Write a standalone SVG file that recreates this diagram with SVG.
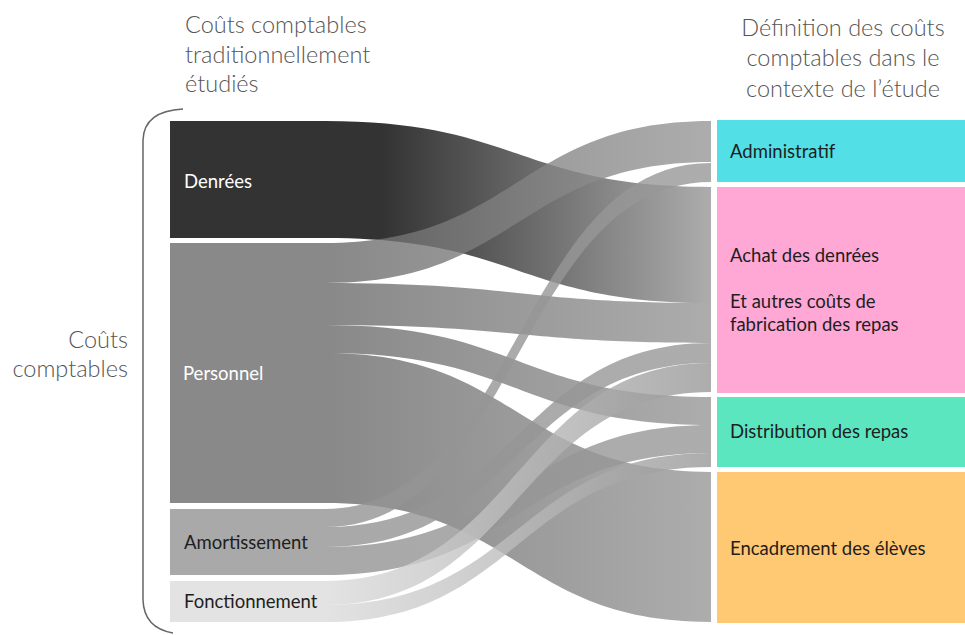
<svg xmlns="http://www.w3.org/2000/svg" width="965" height="635" viewBox="0 0 965 635">
<style>
.title{font-family:Lato,"Open Sans","Liberation Sans",sans-serif;font-weight:300;font-size:23.5px;fill:#555}
.lbl{font-family:Lato,"Open Sans","Liberation Sans",sans-serif;font-size:18.5px}
.dark{fill:#1e1e1e}
.light{fill:#ffffff}
.flow{fill-opacity:0.8}
</style>
<defs>
<linearGradient id="gD" gradientUnits="userSpaceOnUse" x1="325" y1="0" x2="711" y2="0"><stop offset="0" stop-color="#000"/><stop offset="0.15" stop-color="#000"/><stop offset="1" stop-color="#989898"/></linearGradient>
<linearGradient id="gP" gradientUnits="userSpaceOnUse" x1="325" y1="0" x2="711" y2="0"><stop offset="0" stop-color="#6b6b6b"/><stop offset="1" stop-color="#989898"/></linearGradient>
<linearGradient id="gA" gradientUnits="userSpaceOnUse" x1="325" y1="0" x2="711" y2="0"><stop offset="0" stop-color="#939393"/><stop offset="1" stop-color="#989898"/></linearGradient>
<linearGradient id="gF" gradientUnits="userSpaceOnUse" x1="325" y1="0" x2="711" y2="0"><stop offset="0" stop-color="#dcdcdc"/><stop offset="1" stop-color="#989898"/></linearGradient>
</defs>
<rect width="965" height="635" fill="#fff"/>

<g id="titles">
<text class="title" x="185" y="33">Coûts comptables</text>
<text class="title" x="185" y="63">traditionnellement</text>
<text class="title" x="185" y="92">étudiés</text>
<text class="title" x="843" y="36" text-anchor="middle">Définition des coûts</text>
<text class="title" x="843" y="66" text-anchor="middle">comptables dans le</text>
<text class="title" x="843" y="97" text-anchor="middle">contexte de l’étude</text>
</g>

<g id="brace">
<path d="M183 109 Q144 111 143 140 L143 600 Q144 628 173 633" fill="none" stroke="#666" stroke-width="1.5"/>
<text class="title" x="128" y="348" text-anchor="end">Coûts</text>
<text class="title" x="128" y="377" text-anchor="end">comptables</text>
</g>

<g id="connectors">
<path class="flow" fill="url(#gD)" d="M325 121 C518 121 518 187 711 187 L711 303 C518 303 518 238 325 238 Z"/>
<path class="flow" fill="url(#gP)" d="M325 243 C518 243 518 121 711 121 L711 162 C518 162 518 283 325 283 Z"/>
<path class="flow" fill="url(#gP)" d="M325 283 C518 283 518 303 711 303 L711 343 C518 343 518 325 325 325 Z"/>
<path class="flow" fill="url(#gP)" d="M325 325 C518 325 518 397 711 397 L711 425 C518 425 518 353 325 353 Z"/>
<path class="flow" fill="url(#gP)" d="M325 353 C518 353 518 472 711 472 L711 622 C518 622 518 503 325 503 Z"/>
<path class="flow" fill="url(#gA)" d="M325 509 C518 509 518 163 711 163 L711 182 C518 182 518 527 325 527 Z"/>
<path class="flow" fill="url(#gA)" d="M325 527 C518 527 518 343 711 343 L711 363 C518 363 518 547 325 547 Z"/>
<path class="flow" fill="url(#gA)" d="M325 547 C518 547 518 425 711 425 L711 453 C518 453 518 575 325 575 Z"/>
<path class="flow" fill="url(#gF)" d="M325 581 C518 581 518 363 711 363 L711 392 C518 392 518 605 325 605 Z"/>
<path class="flow" fill="url(#gF)" d="M325 605 C518 605 518 453 711 453 L711 467 C518 467 518 622 325 622 Z"/>
</g>

<g id="node-denrees">
<rect x="170" y="121" width="155" height="117" fill="#333333"/>
<text class="lbl light" x="184" y="188">Denrées</text>
</g>
<g id="node-personnel">
<rect x="170" y="243" width="155" height="260" fill="#898989"/>
<text class="lbl light" x="183" y="380">Personnel</text>
</g>
<g id="node-amortissement">
<rect x="170" y="509" width="155" height="66" fill="#a9a9a9"/>
<text class="lbl dark" x="184" y="549">Amortissement</text>
</g>
<g id="node-fonctionnement">
<rect x="170" y="581" width="155" height="41" fill="#e3e3e3"/>
<text class="lbl dark" x="184" y="608">Fonctionnement</text>
</g>

<g id="node-administratif">
<rect x="717" y="120" width="248" height="62" fill="#52dfe6"/>
<text class="lbl dark" x="730" y="158">Administratif</text>
</g>
<g id="node-achat">
<rect x="717" y="187" width="248" height="206" fill="#ffa8d6"/>
<text class="lbl dark" x="730" y="262">Achat des denrées</text>
<text class="lbl dark" x="730" y="308">Et autres coûts de</text>
<text class="lbl dark" x="730" y="331">fabrication des repas</text>
</g>
<g id="node-distribution">
<rect x="717" y="397" width="248" height="70" fill="#5ce6c0"/>
<text class="lbl dark" x="730" y="438">Distribution des repas</text>
</g>
<g id="node-encadrement">
<rect x="717" y="472" width="248" height="151" fill="#ffc872"/>
<text class="lbl dark" x="730" y="555">Encadrement des élèves</text>
</g>
</svg>
